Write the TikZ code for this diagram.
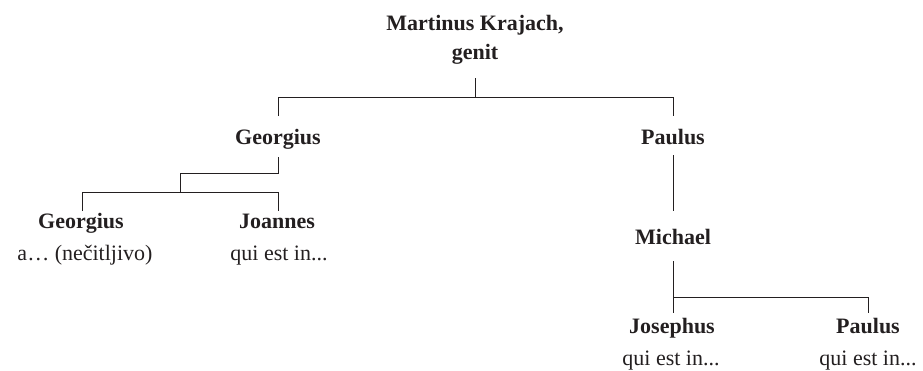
\documentclass[tikz,border=0pt]{standalone}
\usepackage{fontspec}
\setmainfont{Liberation Serif}
\definecolor{ink}{HTML}{231F20}
\begin{document}
\begin{tikzpicture}[x=1pt,y=-1pt,
  person/.style={font=\fontsize{22}{28}\selectfont\bfseries, text=ink, anchor=base, inner sep=0pt},
  note/.style={font=\fontsize{22}{28}\selectfont, text=ink, anchor=base, inner sep=0pt},
  link/.style={draw=ink, line width=1pt}]
\useasboundingbox (0,0) rectangle (923,370);
% nodes
\node[person] (mk1) at (475,30) {Martinus Krajach,};
\node[person] (mk2) at (475,59) {genit};
\node[person] (g1) at (278,144) {Georgius};
\node[person] (p1) at (673,144) {Paulus};
\node[person] (g2) at (81,228) {Georgius};
\node[note] (g2s) at (85,260) {a… (nečitljivo)};
\node[person] (jo) at (277,228) {Joannes};
\node[note] (jos) at (279,260) {qui est in...};
\node[person] (mi) at (673,244) {Michael};
\node[person] (js) at (672,333) {Josephus};
\node[note] (jss) at (671,365) {qui est in...};
\node[person] (p2) at (868,333) {Paulus};
\node[note] (p2s) at (868,365) {qui est in...};
% junction coordinates
\coordinate (mkdrop) at (475,78);
\coordinate (bar1) at (475,97);
\coordinate (g1top) at (278,116);
\coordinate (p1top) at (673,116);
\coordinate (g1bot) at (278,157);
\coordinate (e1) at (180,173);
\coordinate (bar2) at (180,192);
\coordinate (g2top) at (82,211);
\coordinate (jotop) at (278,211);
\coordinate (p1bot) at (673,155);
\coordinate (mitop) at (673,211);
\coordinate (mibot) at (673,261);
\coordinate (bar3) at (673,297);
\coordinate (jstop) at (673,313);
\coordinate (p2top) at (868,313);
% connectors
\draw[link] (mkdrop) -- (bar1);
\draw[link] (g1top) -- (g1top |- bar1) -- (p1top |- bar1) -- (p1top);
\draw[link] (g1bot) -- (g1bot |- e1) -- (e1) -- (bar2);
\draw[link] (g2top) -- (g2top |- bar2) -- (jotop |- bar2) -- (jotop);
\draw[link] (p1bot) -- (mitop);
\draw[link] (mibot) -- (jstop);
\draw[link] (bar3) -- (p2top |- bar3) -- (p2top);
\end{tikzpicture}
\end{document}
